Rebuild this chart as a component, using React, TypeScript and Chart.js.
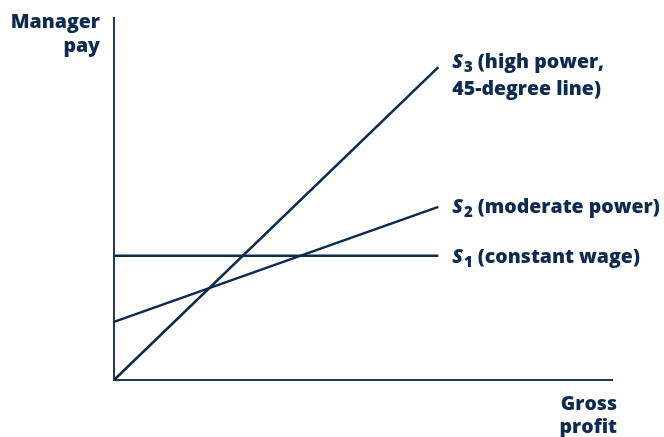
import React, { useEffect, useRef } from "react";
import { Chart, registerables } from "chart.js";

Chart.register(...registerables);

const xPoints = [0, 65];
const s1Values = [34.2, 34.2];
const s2Values = [16, 47.7];
const s3Values = [0, 86.2];
const seriesSubscripts = ["1", "2", "3"];
const seriesTexts = [["(constant wage)"], ["(moderate power)"], ["(high power,", "45-degree line)"]];
const yAxisTitle = ["Manager", "pay"];
const xAxisTitle = ["Gross", "profit"];

const INK = "#0d2a4f";
const FONT = '"Open Sans", "Noto Sans", sans-serif';
const W = "800";
const SZ = 19.5;

const labelPlugin = {
  id: "econLabels",
  beforeDatasetsDraw(chart: any) {
    const { ctx, chartArea } = chart;
    ctx.save();
    ctx.strokeStyle = "#1f3d63";
    ctx.lineWidth = 2;
    ctx.beginPath();
    ctx.moveTo(chartArea.left, chartArea.top);
    ctx.lineTo(chartArea.left, chartArea.bottom);
    ctx.lineTo(chartArea.right, chartArea.bottom);
    ctx.stroke();
    ctx.restore();
  },
  afterDatasetsDraw(chart: any) {
    const { ctx, chartArea } = chart;
    ctx.save();
    ctx.fillStyle = INK;
    ctx.textBaseline = "alphabetic";
    const offsets = [7, 6, 1];
    chart.data.datasets.forEach((ds: any, i: number) => {
      const meta = chart.getDatasetMeta(i);
      const last = meta.data[meta.data.length - 1];
      let x = last.x + 14;
      const baseY = last.y + offsets[i];
      ctx.textAlign = "left";
      ctx.font = `italic ${W} ${SZ}px ${FONT}`;
      ctx.fillText("S", x, baseY);
      x += ctx.measureText("S").width + 1;
      ctx.font = `${W} 15px ${FONT}`;
      ctx.fillText(seriesSubscripts[i], x, baseY + 4);
      x += ctx.measureText(seriesSubscripts[i]).width + 5;
      ctx.font = `${W} ${SZ}px ${FONT}`;
      const lines = seriesTexts[i];
      ctx.fillText(lines[0], x, baseY);
      if (lines[1]) {
        ctx.fillText(lines[1], last.x + 14, baseY + 27);
      }
    });
    ctx.font = `${W} ${SZ}px ${FONT}`;
    ctx.textAlign = "right";
    ctx.fillText(yAxisTitle[0], chartArea.left - 14, chartArea.top + 11);
    ctx.fillText(yAxisTitle[1], chartArea.left - 14, chartArea.top + 35);
    ctx.fillText(xAxisTitle[0], chartArea.right + 4, chartArea.bottom + 30);
    ctx.fillText(xAxisTitle[1], chartArea.right + 4, chartArea.bottom + 53);
    ctx.restore();
  },
};

export default function App() {
  const ref = useRef<HTMLCanvasElement>(null);
  useEffect(() => {
    if (!ref.current) return;
    const mk = (vals: number[]) => xPoints.map((x, i) => ({ x, y: vals[i] }));
    const common = {
      borderColor: INK,
      borderWidth: 2.5,
      pointRadius: 0,
      tension: 0,
      clip: false as any,
      fill: false,
    };
    const chart = new Chart(ref.current, {
      type: "line",
      data: {
        datasets: [
          { ...common, label: "S1", data: mk(s1Values) },
          { ...common, label: "S2", data: mk(s2Values) },
          { ...common, label: "S3", data: mk(s3Values) },
        ],
      },
      options: {
        animation: false,
        responsive: false,
        layout: { padding: { left: 114, right: 51, top: 17, bottom: 57 } },
        plugins: { legend: { display: false }, tooltip: { enabled: false } },
        scales: {
          x: { type: "linear", min: 0, max: 100, display: false },
          y: { type: "linear", min: 0, max: 100, display: false },
        },
      },
      plugins: [labelPlugin],
    });
    return () => chart.destroy();
  }, []);
  return (
    <div style={{ position: "fixed", left: 0, top: 0, width: 664, height: 437, background: "#fff" }}>
      <canvas ref={ref} width={664} height={437} style={{ display: "block" }} />
    </div>
  );
}
